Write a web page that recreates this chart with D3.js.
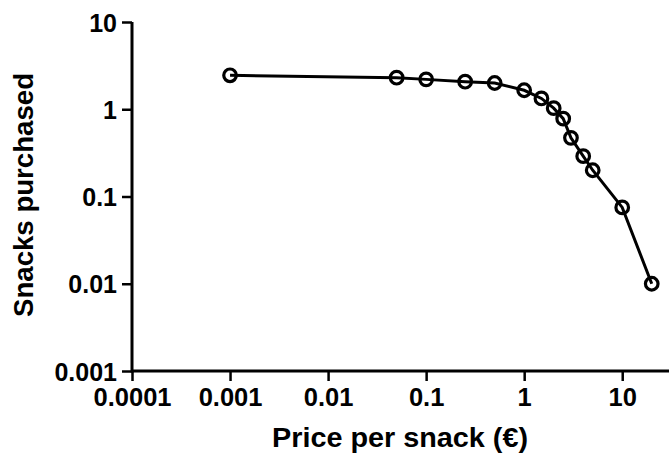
<!DOCTYPE html>
<html>
<head>
<meta charset="utf-8">
<script src="https://cdn.jsdelivr.net/npm/d3@7"></script>
<style>
  body { margin: 0; background: #fff; }
  text { font-family: "Liberation Sans", Arial, sans-serif; font-weight: bold; }
</style>
</head>
<body>
<script>
// price per snack (euro) and snacks purchased
var price = [0.001, 0.05, 0.1, 0.25, 0.5, 1, 1.5, 2, 2.5, 3, 4, 5, 10, 20];
var snacks = [2.45, 2.3, 2.2, 2.07, 2.0, 1.65, 1.33, 1.03, 0.78, 0.47, 0.29, 0.2, 0.075, 0.01];

var xTicks = [0.0001, 0.001, 0.01, 0.1, 1, 10];
var xTickLabels = ["0.0001", "0.001", "0.01", "0.1", "1", "10"];
var yTicks = [0.001, 0.01, 0.1, 1, 10];
var yTickLabels = ["0.001", "0.01", "0.1", "1", "10"];

let chart = function() {
    let w = 669;
    let h = 466;
    let left = 132, top = 22, right = 669, bottom = 371;

    let svg = d3.select("body")
        .append("svg")
        .attr("width", w)
        .attr("height", h);

    let x = d3.scaleLog().domain([0.0001, 30]).range([left, right]);
    let y = d3.scaleLog().domain([0.001, 10]).range([bottom, top]);

    // minor ticks: 2..9 in every decade
    let xMinor = [];
    for (let d = 0.0001; d < 20; d *= 10) {
        for (let k = 2; k <= 9; k++) { if (d * k <= 30) xMinor.push(d * k); }
    }
    let yMinor = [];
    for (let d = 0.001; d < 10; d *= 10) {
        for (let k = 2; k <= 9; k++) yMinor.push(d * k);
    }

    // x axis
    let gx = svg.append("g").attr("transform", "translate(0," + bottom + ")");
    gx.call(d3.axisBottom(x).tickValues(xMinor).tickSize(5).tickFormat(""));
    gx.call(d3.axisBottom(x).tickValues(xTicks).tickSize(10)
        .tickFormat(function(d, i) { return xTickLabels[i]; }));
    gx.selectAll(".domain").attr("d", "M" + left + ",0H" + right)
        .attr("stroke", "#000").attr("stroke-width", 3);
    gx.selectAll(".tick line").attr("stroke", "#000").attr("stroke-width", 2.5);
    gx.selectAll(".tick text")
        .attr("y", 17).attr("dy", "0.71em")
        .attr("font-size", "25.5px").attr("fill", "#000");

    // y axis
    let gy = svg.append("g").attr("transform", "translate(" + left + ",0)");
    gy.call(d3.axisLeft(y).tickValues(yMinor).tickSize(5).tickFormat(""));
    gy.call(d3.axisLeft(y).tickValues(yTicks).tickSize(10)
        .tickFormat(function(d, i) { return yTickLabels[i]; }));
    gy.selectAll(".domain").attr("d", "M0," + top + "V" + (bottom + 1.5))
        .attr("stroke", "#000").attr("stroke-width", 3);
    gy.selectAll(".tick line").attr("stroke", "#000").attr("stroke-width", 2.5);
    gy.selectAll(".tick text")
        .attr("x", -15).attr("dy", "0.36em")
        .attr("font-size", "25px").attr("fill", "#000");

    // line + open circles
    let pts = price.map(function(p, i) { return [p, snacks[i]]; });
    svg.append("path")
        .datum(pts)
        .attr("fill", "none")
        .attr("stroke", "#000")
        .attr("stroke-width", 3)
        .attr("d", d3.line()
            .x(function(d) { return x(d[0]); })
            .y(function(d) { return y(d[1]); }));

    svg.selectAll("circle")
        .data(pts)
        .enter()
        .append("circle")
        .attr("cx", function(d) { return x(d[0]); })
        .attr("cy", function(d) { return y(d[1]); })
        .attr("r", 6.3)
        .attr("fill", "none")
        .attr("stroke", "#000")
        .attr("stroke-width", 3.2);

    // axis titles
    svg.append("text")
        .text("Price per snack (€)")
        .attr("x", 400).attr("y", 447)
        .attr("text-anchor", "middle")
        .attr("font-size", "27px")
        .attr("textLength", 256)
        .attr("lengthAdjust", "spacingAndGlyphs");

    svg.append("text")
        .text("Snacks purchased")
        .attr("transform", "translate(33,195) rotate(-90)")
        .attr("text-anchor", "middle")
        .attr("font-size", "27px")
        .attr("textLength", 244)
        .attr("lengthAdjust", "spacingAndGlyphs");
};

chart();
</script>
</body>
</html>
